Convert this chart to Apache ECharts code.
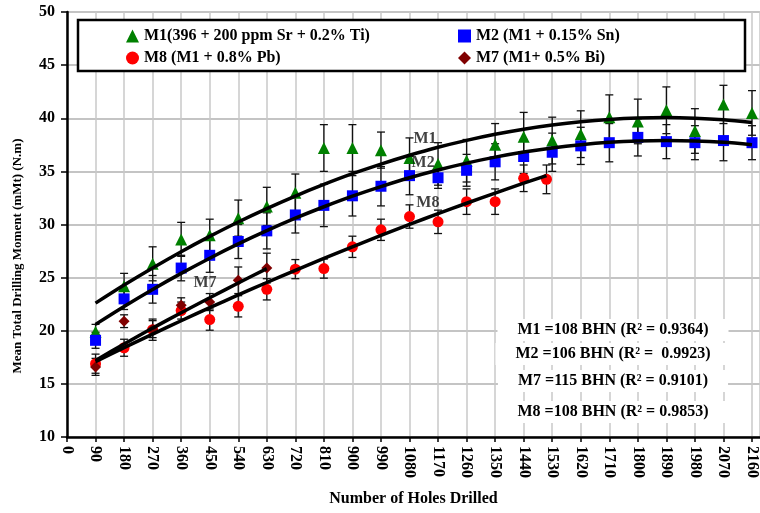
<!DOCTYPE html>
<html>
<head>
<meta charset="utf-8">
<script src="https://cdn.jsdelivr.net/npm/echarts@6/dist/echarts.min.js"></script>
<style>
  html, body { margin: 0; padding: 0; background: #fff; }
  #chart { width: 760px; height: 513px; }
</style>
</head>
<body>
<div id="chart"></div>
<script>
// number of holes drilled (x positions)
const holes = [90, 180, 270, 360, 450, 540, 630, 720, 810, 900, 990, 1080,
  1170, 1260, 1350, 1440, 1530, 1620, 1710, 1800, 1890, 1980, 2070, 2160];
const m8Holes = [90, 180, 270, 360, 450, 540, 630, 720, 810, 900, 990, 1080,
  1170, 1260, 1350, 1440, 1512];
const m7Holes = [90, 180, 270, 360, 450, 540, 630];

// mean values and error (+/-)
const m1Mean = [19.9, 24.2, 26.3, 28.6, 29.0, 30.6, 31.7, 33.0, 37.2, 37.2, 37.0, 36.25,
  35.7, 36.0, 37.5, 38.25, 37.9, 38.5, 40.1, 39.7, 40.75, 38.8, 41.3, 40.5];
const m1Err = [0.7, 1.2, 1.6, 1.6, 1.5, 1.7, 1.8, 1.75, 2.2, 2.2, 1.7, 1.9,
  2.0, 2.0, 2.0, 2.3, 2.2, 2.2, 2.1, 2.1, 2.2, 2.1, 1.8, 2.1];
const m2Mean = [19.1, 23.0, 23.9, 25.9, 27.1, 28.4, 29.4, 30.9, 31.8, 32.7, 33.6, 34.6,
  34.4, 35.1, 35.9, 36.4, 36.8, 37.4, 37.7, 38.2, 37.8, 37.7, 37.9, 37.7];
const m2Err = [0.75, 1.0, 1.3, 1.2, 1.6, 1.6, 1.7, 1.7, 2.0, 1.9, 1.85, 1.8,
  1.0, 1.5, 1.7, 1.6, 1.8, 1.75, 1.8, 1.75, 1.6, 1.6, 1.9, 1.6];
const m8Mean = [16.9, 18.4, 20.1, 21.9, 21.05, 22.3, 23.9, 25.8, 25.85, 27.9, 29.5, 30.75,
  30.25, 32.15, 32.15, 34.35, 34.25];
const m8Err = [0.9, 0.8, 1.0, 0.8, 1.0, 1.0, 1.0, 0.9, 0.9, 1.0, 1.0, 1.1,
  1.1, 1.2, 1.2, 1.25, 1.35];
const m7Mean = [16.6, 20.9, 20.15, 22.4, 22.7, 24.75, 25.9];
const m7Err = [0.8, 0.6, 0.8, 0.7, 0.8, 1.25, 1.4];

// fitted trend curves
const m1Fit = [22.6, 24.3, 25.91, 27.44, 28.88, 30.24, 31.5, 32.68, 33.77, 34.78, 35.69, 36.52,
  37.27, 37.92, 38.49, 38.97, 39.36, 39.67, 39.89, 40.02, 40.06, 40.0, 39.85, 39.6];
const m2Fit = [20.6, 22.29, 23.89, 25.4, 26.83, 28.17, 29.42, 30.59, 31.67, 32.67, 33.57, 34.4,
  35.13, 35.78, 36.34, 36.82, 37.21, 37.51, 37.73, 37.86, 37.9, 37.86, 37.73, 37.51];
const m8Fit = [17.1, 18.41, 19.69, 20.94, 22.17, 23.37, 24.54, 25.69, 26.81, 27.9, 28.97, 30.01,
  31.02, 32.0, 32.96, 33.89, 34.6];
const m7Fit = [17.2, 18.75, 20.25, 21.7, 23.1, 24.5, 25.85];

// curve labels (holes, moment, text)
const curveLabels = [[1129, 38.1, 'M1'], [1123, 35.8, 'M2'], [1138, 32.0, 'M8'], [435, 24.5, 'M7']];

const hardness = [
  'M1 =108 BHN (R² = 0.9364)',
  'M2 =106 BHN (R² =  0.9923)',
  'M7 =115 BHN (R² = 0.9101)',
  'M8 =108 BHN (R² = 0.9853)'
];

const FONT = '"Liberation Serif", "Times New Roman", serif';

function zip(xs, ys) {
  return xs.map((x, i) => [x, ys[i]]);
}

function errorBars(name, xs, ys, errs) {
  return {
    name: name + ' err',
    type: 'custom',
    z: 3,
    silent: true,
    data: xs.map((x, i) => [x, ys[i] - errs[i], ys[i] + errs[i]]),
    renderItem(params, api) {
      const lo = api.coord([api.value(0), api.value(1)]);
      const hi = api.coord([api.value(0), api.value(2)]);
      const w = 4;
      const st = { stroke: '#111', lineWidth: 1.3 };
      return {
        type: 'group',
        children: [
          { type: 'line', shape: { x1: lo[0], y1: lo[1], x2: hi[0], y2: hi[1] }, style: st },
          { type: 'line', shape: { x1: lo[0] - w, y1: lo[1], x2: lo[0] + w, y2: lo[1] }, style: st },
          { type: 'line', shape: { x1: hi[0] - w, y1: hi[1], x2: hi[0] + w, y2: hi[1] }, style: st }
        ]
      };
    }
  };
}

function points(name, xs, ys, symbol, size, color) {
  return {
    name: name,
    type: 'scatter',
    z: 4,
    symbol: symbol,
    symbolSize: size,
    itemStyle: { color: color, opacity: 1 },
    data: zip(xs, ys)
  };
}

function trend(xs, ys) {
  return {
    type: 'line',
    z: 5,
    silent: true,
    smooth: 0.3,
    showSymbol: false,
    lineStyle: { color: '#000', width: 3.5 },
    data: zip(xs, ys)
  };
}

const legendText = { fontFamily: FONT, fontWeight: 'bold', fontSize: 16, color: '#000' };

const chart = echarts.init(document.getElementById('chart'));
chart.setOption({
  animation: false,
  backgroundColor: '#fff',
  grid: { left: 67, right: 0, top: 12, bottom: 76 },
  legend: [
    {
      data: ['M1(396 + 200 ppm Sr + 0.2% Ti)', 'M8 (M1 + 0.8% Pb)'],
      orient: 'vertical', left: 121, top: 23, itemGap: 6,
      itemWidth: 13, itemHeight: 13, textStyle: legendText, z: 10
    },
    {
      data: ['M2 (M1 + 0.15% Sn)', 'M7 (M1+ 0.5% Bi)'],
      orient: 'vertical', left: 453, top: 23, itemGap: 6,
      itemWidth: 13, itemHeight: 13, textStyle: legendText, z: 10
    }
  ],
  xAxis: {
    type: 'value',
    min: 0, max: 2185, interval: 90,
    name: 'Number of Holes Drilled',
    nameLocation: 'middle', nameGap: 54,
    nameTextStyle: { fontFamily: FONT, fontWeight: 'bold', fontSize: 16, color: '#000' },
    axisLine: { onZero: false, lineStyle: { color: '#000', width: 2.5 } },
    axisTick: { length: 5, lineStyle: { color: '#000', width: 1.5 } },
    axisLabel: {
      rotate: -90, margin: 9, showMaxLabel: false,
      formatter: v => String(v),
      fontFamily: FONT, fontWeight: 'bold', fontSize: 16, color: '#000'
    },
    splitLine: { show: true, lineStyle: { color: '#c8c8c8', width: 1.5 } }
  },
  yAxis: {
    type: 'value',
    min: 10, max: 50, interval: 5,
    axisLine: { show: true, lineStyle: { color: '#000', width: 2.5 } },
    axisTick: { show: true, length: 6, lineStyle: { color: '#000', width: 1.5 } },
    axisLabel: { margin: 12, fontFamily: FONT, fontWeight: 'bold', fontSize: 16, color: '#000' },
    splitLine: { show: true, lineStyle: { color: '#c4c4c4', width: 2 } }
  },
  graphic: [
    {
      type: 'rect', z: 8,
      shape: { x: 78, y: 20, width: 667, height: 51 },
      style: { fill: '#fff', stroke: '#000', lineWidth: 2.5 }
    },
    {
      type: 'text', z: 8, x: 18, y: 256, rotation: Math.PI / 2,
      style: {
        text: 'Mean Total Drilling Moment (mMt) (N.m)',
        fill: '#000', font: 'bold 13px ' + FONT,
        align: 'center', verticalAlign: 'middle'
      }
    },
    ...hardness.map((t, i) => ({
      type: 'text', z: 8, x: 613, y: [330, 354, 381, 412][i],
      style: {
        text: t, fill: '#000', font: 'bold 16px ' + FONT,
        align: 'center', verticalAlign: 'middle',
        backgroundColor: '#fff', padding: [3, 20]
      }
    }))
  ],
  series: [
    errorBars('M1', holes, m1Mean, m1Err),
    errorBars('M2', holes, m2Mean, m2Err),
    errorBars('M8', m8Holes, m8Mean, m8Err),
    errorBars('M7', m7Holes, m7Mean, m7Err),
    points('M1(396 + 200 ppm Sr + 0.2% Ti)', holes, m1Mean, 'triangle', 12, '#008000'),
    points('M2 (M1 + 0.15% Sn)', holes, m2Mean, 'rect', 11, '#0000ff'),
    points('M8 (M1 + 0.8% Pb)', m8Holes, m8Mean, 'circle', 11, '#ff0000'),
    points('M7 (M1+ 0.5% Bi)', m7Holes, m7Mean, 'diamond', 11, '#800000'),
    trend(holes, m1Fit),
    trend(holes, m2Fit),
    trend(m8Holes, m8Fit),
    trend(m7Holes, m7Fit),
    {
      type: 'scatter',
      z: 6,
      silent: true,
      symbolSize: 0,
      data: curveLabels.map(d => ({ value: [d[0], d[1]], name: d[2] })),
      label: {
        show: true, position: 'inside', formatter: '{b}',
        fontFamily: FONT, fontWeight: 'bold', fontSize: 16, color: '#111'
      }
    }
  ]
});
</script>
</body>
</html>
